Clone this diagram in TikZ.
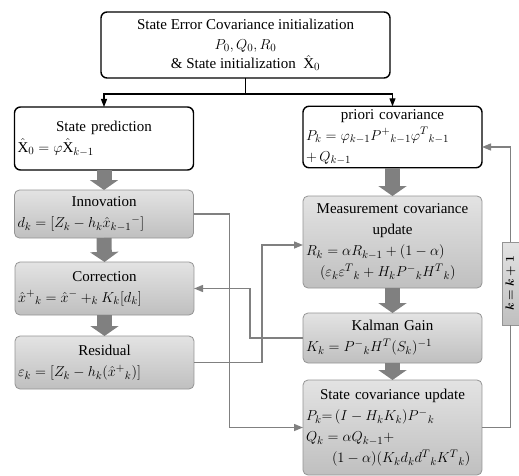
\documentclass[tikz,border=0pt]{standalone}
\usepackage{bm}
\usepackage{fontspec}
\setmainfont{Liberation Serif}
\usetikzlibrary{arrows.meta}
\begin{document}
\begin{tikzpicture}[x=1pt,y=-1pt,every node/.style={font=\fontsize{15}{21}\selectfont},
  box/.style={inner sep=3pt,outer sep=0pt,text width=173pt,minimum width=179pt},
  whitebox/.style={box,draw=black,line width=1.4pt,fill=white,rounded corners=6pt},
  graybox/.style={box,draw=black!42,line width=0.8pt,top color=black!11,bottom color=black!25,rounded corners=5pt},
  flow/.style={draw=black!50,line width=15pt,-{Triangle[length=10pt,width=28pt]}},
  link/.style={draw=black!50,line width=1.4pt,-{Triangle[length=9pt,width=7pt]}},
  split/.style={draw=black,line width=1.3pt,-{Triangle[length=8pt,width=6pt]}}]
  \useasboundingbox (0,0) rectangle (519,476);
  % initialization
  \node[whitebox,text width=,minimum width=289pt,minimum height=66pt,align=center] (init) at (245.5,45)
    {State Error Covariance initialization\\[-1pt]$P_0, Q_0, R_0$\\[-2pt]\& State initialization~ $\hat{\mathrm{X}}_0$};
  % left column
  \node[whitebox,minimum height=63pt] (pred) at (104,138.5)
    {\centering State prediction\par\raggedright $\hat{\mathrm{X}}_0 = \varphi\hat{\mathrm{X}}_{k-1}$};
  \node[graybox,minimum height=48pt] (innov) at (104,214)
    {\centering Innovation\par\raggedright $d_k = [Z_k - h_k\hat{x}_{k-1}{}^-]$};
  \node[graybox,minimum height=53pt] (corr) at (104.5,288.5)
    {\centering Correction\par\raggedright $\hat{x}^+{}_k = \hat{x}^- +_k K_k[d_k]$};
  \node[graybox,minimum height=53pt] (resid) at (104.5,362.5)
    {\centering Residual\par\raggedright $\varepsilon_k = [Z_k - h_k(\hat{x}^+{}_k)]$};
  % right column
  \node[whitebox,minimum height=60pt] (prior) at (392.5,137)
    {\centering priori covariance\par\raggedright $P_k = \varphi_{k-1}P^+{}_{k-1}\varphi^T{}_{k-1}$\\$+\,Q_{k-1}$};
  \node[graybox,minimum height=92pt] (meas) at (392.5,242)
    {\centering Measurement covariance\\ update\par\raggedright $R_k = \alpha R_{k-1} + (1-\alpha)$\\
     \hspace*{14pt}$(\varepsilon_k\varepsilon^T{}_k + H_kP^-{}_kH^T{}_k)$};
  \node[graybox,minimum height=50pt] (gain) at (392.5,338)
    {\centering Kalman Gain\par\raggedright $K_k = P^-{}_kH^T(S_k)^{-1}$};
  \node[graybox,minimum height=95pt] (scov) at (392.5,427.5)
    {\centering State covariance update\par\raggedright $P_k{=}\,(I-H_kK_k)P^-{}_k$\\$Q_k = \alpha Q_{k-1} +$\\
     \hspace*{26pt}$(1-\alpha)(K_kd_kd^T{}_kK^T{}_k)$};
  \node[graybox,text width=,rounded corners=0pt,minimum width=17pt,minimum height=83pt,inner sep=0pt,
    font=\fontsize{13}{15}\selectfont] (kstep) at (510.5,283.5) {\rotatebox{90}{$\bm{k=k+1}$}};
  % block arrows
  \foreach \a/\b in {pred/innov, innov/corr, corr/resid, prior/meas, meas/gain, gain/scov}
    \draw[flow] (\a.south) -- (\b.north);
  % splitting the initialization
  \coordinate (fork) at (245.5,94);
  \draw[line width=1.3pt] (init.south) -- (fork);
  \draw[split] (fork) -| (pred.north);
  \draw[split] (fork) -| (prior.north);
  % feedback links
  \draw[link] (innov.east) -- ++(36,0) |- (scov.west);
  \draw[link] (resid.east) -- ++(68,0) |- ([yshift=-3pt]meas.west);
  \draw[link] (gain.west) -- ++(-53,0) |- (corr.east);
  \draw[link,-] (scov.east) -| (kstep.south);
  \draw[link] (kstep.north) |- ([yshift=-10pt]prior.east);
\end{tikzpicture}
\end{document}
